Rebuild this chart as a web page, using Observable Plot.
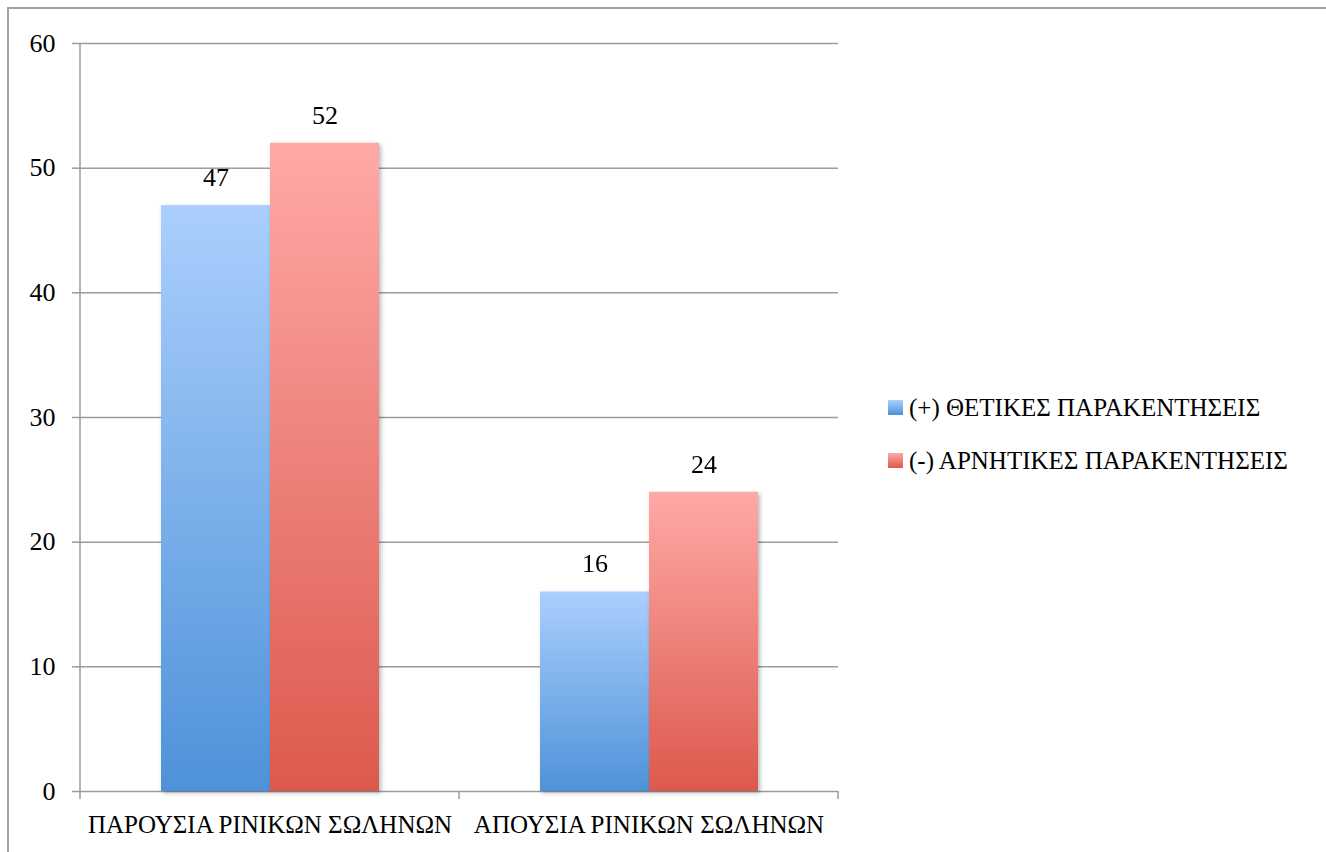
<!DOCTYPE html>
<html>
<head>
<meta charset="utf-8">
<script src="https://cdn.jsdelivr.net/npm/d3@7"></script>
<script src="https://cdn.jsdelivr.net/npm/@observablehq/plot@0.6"></script>
<style>
  body { margin: 0; background: #fff; }
  #chart { position: relative; width: 1326px; height: 852px; overflow: hidden; }
  #chart svg { position: absolute; left: 0; top: 0; }
  #frame-edge {
    position: absolute; left: 7px; top: 7px; width: 1330px; height: 860px;
    border-left: 2px solid #a3a3a3; border-top: 2px solid #a3a3a3;
  }
  #legend { position: absolute; left: 888px; top: 390px; font-family: "Liberation Serif", serif; font-size: 25px; color: #000; }
  #legend .item { position: relative; height: 53px; white-space: nowrap; }
  #legend .swatch { position: absolute; left: 0; top: 10px; width: 15px; height: 15px; }
  #legend .name { position: absolute; left: 21px; top: 0; line-height: 36px; }
</style>
</head>
<body>
<div id="chart"><div id="frame-edge"></div></div>
<script>
// Groups along the horizontal axis
const categories = ["ΠΑΡΟΥΣΙΑ ΡΙΝΙΚΩΝ ΣΩΛΗΝΩΝ", "ΑΠΟΥΣΙΑ ΡΙΝΙΚΩΝ ΣΩΛΗΝΩΝ"];
// The two series
const series = ["(+) ΘΕΤΙΚΕΣ ΠΑΡΑΚΕΝΤΗΣΕΙΣ", "(-) ΑΡΝΗΤΙΚΕΣ ΠΑΡΑΚΕΝΤΗΣΕΙΣ"];
// Counts per group, one list per series
const positiveCounts = [47, 16];
const negativeCounts = [52, 24];
// Value axis ticks
const yTicks = [0, 10, 20, 30, 40, 50, 60];

// Light-to-dark vertical gradient for each series
const gradientStops = [
  ["#abcffd", "#4e92d9"],
  ["#ffa9a6", "#dc594d"]
];
const gridColor = "#9c9c9c";

const rows = [];
categories.forEach((c, i) => {
  rows.push({category: c, series: series[0], value: positiveCounts[i]});
  rows.push({category: c, series: series[1], value: negativeCounts[i]});
});

const barMark = (k) => Plot.barY(rows.filter(d => d.series === series[k]), {
  fx: "category", x: "series", y: "value", fill: `url(#bar-gradient-${k})`
});

const plot = Plot.plot({
  width: 1326,
  height: 852,
  marginLeft: 80,
  marginRight: 488,
  marginTop: 43,
  marginBottom: 61,
  style: {fontFamily: "Liberation Serif, serif", color: "#000", background: "transparent", overflow: "visible"},
  fx: {domain: categories, padding: 0, label: null},
  x: {domain: series, paddingInner: 0, paddingOuter: 0.7385, axis: null},
  y: {domain: [0, 60], label: null},
  marks: [
    Plot.gridY(yTicks, {stroke: gridColor, strokeOpacity: 1, strokeWidth: 1.5}),
    Plot.axisY(yTicks, {tickSize: 8, tickPadding: 17, stroke: gridColor, strokeWidth: 1.5, fontSize: 26, label: null}),
    Plot.axisFx({anchor: "bottom", tickSize: 0, tickPadding: 24, fontSize: 25, label: null}),
    barMark(0),
    barMark(1),
    Plot.text(rows, {fx: "category", x: "series", y: "value", text: d => String(d.value), dy: -28, fontSize: 26, fill: "#000"})
  ]
});

// Gradients and a soft shadow for the bars
const svg = d3.select(plot);
const defs = svg.insert("defs", ":first-child");
gradientStops.forEach(([top, bottom], k) => {
  const lg = defs.append("linearGradient").attr("id", `bar-gradient-${k}`)
    .attr("x1", 0).attr("y1", 0).attr("x2", 0).attr("y2", 1);
  lg.append("stop").attr("offset", "0%").attr("stop-color", top);
  lg.append("stop").attr("offset", "100%").attr("stop-color", bottom);
});
const shadow = defs.append("filter").attr("id", "bar-shadow")
  .attr("x", "-10%").attr("y", "-10%").attr("width", "130%").attr("height", "130%");
shadow.append("feDropShadow").attr("dx", 2).attr("dy", 2).attr("stdDeviation", 2)
  .attr("flood-color", "#000").attr("flood-opacity", 0.28);
svg.selectAll('g[aria-label="bar"]').attr("filter", "url(#bar-shadow)");

// Vertical axis line and group boundary ticks, placed with the plot's own scales
const yScale = plot.scale("y");
const fxScale = plot.scale("fx");
const band = fxScale.bandwidth ?? fxScale.step;
const y0 = yScale.apply(0);
const yTop = yScale.apply(d3.max(yTicks));
const left = fxScale.apply(categories[0]);
const bounds = [left, ...categories.map(c => fxScale.apply(c) + band)];
const axes = svg.append("g").attr("stroke", gridColor).attr("stroke-width", 1.5).attr("fill", "none");
axes.append("line").attr("x1", left).attr("x2", left).attr("y1", yTop).attr("y2", y0);
bounds.forEach(bx => {
  axes.append("line").attr("x1", bx).attr("x2", bx).attr("y1", y0).attr("y2", y0 + 8);
});

const chart = document.getElementById("chart");
chart.appendChild(plot);

// Legend with gradient swatches
const legend = d3.select(chart).append("div").attr("id", "legend");
series.forEach((s, k) => {
  const item = legend.append("div").attr("class", "item");
  item.append("div").attr("class", "swatch")
    .style("background", `linear-gradient(${gradientStops[k][0]}, ${gradientStops[k][1]})`);
  item.append("div").attr("class", "name").text(s);
});
</script>
</body>
</html>
